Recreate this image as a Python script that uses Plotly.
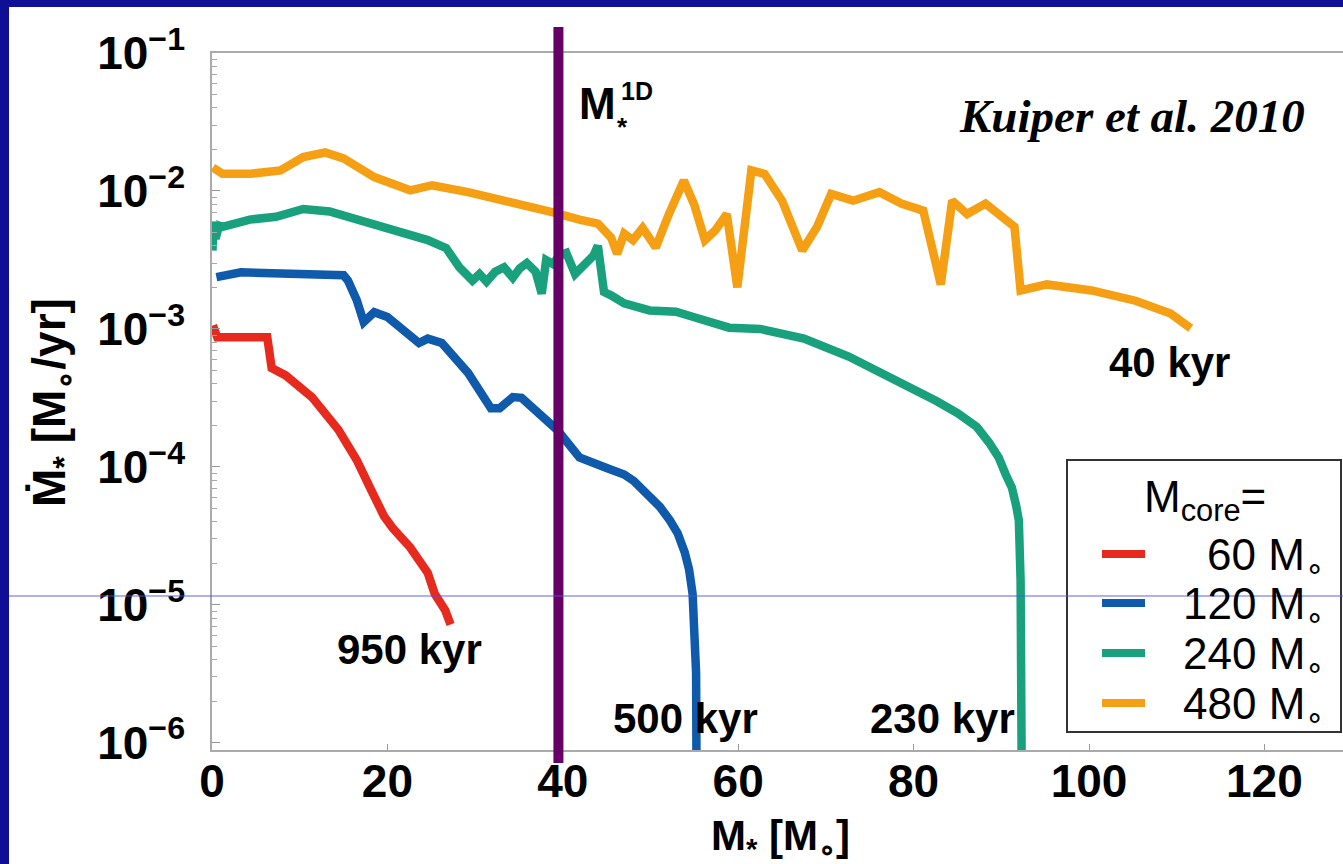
import numpy as np
import plotly.graph_objects as go

# ---------------- data ----------------
red_x = [0.1, 0.6, 6.3, 6.8, 8.4, 11.4, 14.4, 16.5, 18.0, 19.6, 20.6, 22.6, 24.6, 25.4, 26.6, 27.2]
red_y = [1.06e-3, 8.7e-4, 8.7e-4, 5.2e-4, 4.6e-4, 3.2e-4, 1.86e-4, 1.12e-4, 7.1e-5, 4.4e-5,
         3.6e-5, 2.6e-5, 1.7e-5, 1.2e-5, 9.1e-6, 7.2e-6]

blue_x = [0.5, 3.3, 15.0, 15.5, 16.5, 17.3, 18.5, 20.0, 23.6, 24.6, 26.2, 29.2, 31.8, 32.8, 34.3,
          35.3, 39.4, 41.9, 45.0, 47.0, 48.1, 49.5, 51.1, 52.2, 53.1, 53.9, 54.4, 54.8, 55.0,
          55.2, 55.3]
blue_y = [2.37e-3, 2.57e-3, 2.45e-3, 2.24e-3, 1.62e-3, 1.12e-3, 1.32e-3, 1.22e-3, 7.9e-4, 8.5e-4,
          7.9e-4, 4.8e-4, 2.66e-4, 2.66e-4, 3.2e-4, 3.16e-4, 1.84e-4, 1.17e-4, 9.8e-5, 8.8e-5,
          7.9e-5, 6.5e-5, 5.1e-5, 4.1e-5, 3.3e-5, 2.4e-5, 1.8e-5, 1.2e-5, 7e-6, 3.2e-6, 1e-7]

green_x = [0.05, 0.2, 0.4, 0.8, 1.2, 4.3, 7.3, 10.4, 13.4, 16.5, 20.6, 24.6, 26.7, 28.2, 29.7,
           30.5, 31.3, 32.3, 33.3, 34.3, 35.1, 35.9, 36.9, 37.6, 38.1, 38.9, 39.6, 40.4, 41.4,
           42.5, 43.5, 44.0, 44.7, 45.5, 47.0, 49.9, 52.9, 54.9, 58.95, 62.5, 67.5, 72.6, 77.6,
           82.6, 85.0, 87.2, 88.6, 89.7, 90.5, 91.2, 91.7, 92.0, 92.2, 92.3, 92.4]
green_y = [3.7e-3, 6.0e-3, 4.5e-3, 5.6e-3, 5.5e-3, 6.2e-3, 6.5e-3, 7.4e-3, 7.1e-3, 6.2e-3,
           5.2e-3, 4.4e-3, 3.85e-3, 2.8e-3, 2.24e-3, 2.5e-3, 2.2e-3, 2.6e-3, 2.8e-3, 2.35e-3,
           2.75e-3, 3.0e-3, 2.6e-3, 1.8e-3, 3.15e-3, 2.95e-3, 3.4e-3, 3.55e-3, 2.5e-3, 3.0e-3,
           3.4e-3, 4.0e-3, 1.85e-3, 1.75e-3, 1.53e-3, 1.36e-3, 1.33e-3, 1.22e-3, 1.02e-3,
           1.0e-3, 8.5e-4, 6.3e-4, 4.4e-4, 3.0e-4, 2.45e-4, 1.95e-4, 1.5e-4, 1.17e-4, 8.8e-5,
           7.1e-5, 5.2e-5, 4.1e-5, 1.5e-5, 5.0e-6, 1e-7]

orange_x = [0.1, 1.2, 4.3, 7.8, 10.4, 12.9, 15.0, 18.5, 22.6, 25.1, 29.2, 34.3, 38.9, 41.9, 44.0,
            45.5, 46.2, 47.0, 48.0, 49.1, 50.6, 52.1, 53.8, 55.0, 56.2, 57.4, 58.7, 59.9, 61.5,
            63.0, 65.0, 67.3, 69.0, 70.6, 73.1, 76.1, 78.6, 81.1, 83.1, 84.4, 86.1, 88.2, 90.2,
            91.5, 92.2, 95.2, 100.3, 105.3, 109.3, 111.6]
orange_y = [1.48e-2, 1.33e-2, 1.33e-2, 1.41e-2, 1.76e-2, 1.9e-2, 1.72e-2, 1.26e-2, 1.01e-2,
            1.10e-2, 9.8e-3, 8.3e-3, 7.0e-3, 6.2e-3, 5.8e-3, 4.6e-3, 3.5e-3, 4.9e-3, 4.4e-3,
            5.4e-3, 3.9e-3, 6.8e-3, 1.19e-2, 7.9e-3, 4.4e-3, 5.2e-3, 6.8e-3, 2.0e-3, 1.41e-2,
            1.33e-2, 8.5e-3, 3.7e-3, 5.5e-3, 9.5e-3, 8.5e-3, 9.8e-3, 8.1e-3, 7.2e-3, 2.1e-3,
            8.5e-3, 6.8e-3, 8.1e-3, 6.5e-3, 5.5e-3, 1.9e-3, 2.1e-3, 1.9e-3, 1.6e-3, 1.29e-3,
            1.01e-3]

series_names = ["60 M<sub>∘</sub>", "120 M<sub>∘</sub>", "240 M<sub>∘</sub>", "480 M<sub>∘</sub>"]
series_colors = ["#e62a1e", "#0f5aaa", "#19a07d", "#f5a014"]

end_labels = ["950 kyr", "500 kyr", "230 kyr", "40 kyr"]
end_label_x = [22.5, 54.0, 83.3, 109.2]
end_label_y = [4.7e-6, 1.5e-6, 1.5e-6, 5.74e-4]

m1d = 39.5

xtick_vals = [0, 20, 40, 60, 80, 100, 120]
ytick_vals = [1e-6, 1e-5, 1e-4, 1e-3, 1e-2, 1e-1]
ytick_text = ["10<sup>−6</sup>", "10<sup>−5</sup>", "10<sup>−4</sup>",
              "10<sup>−3</sup>", "10<sup>−2</sup>", "10<sup>−1</sup>"]

# ---------------- figure ----------------
W, H = 1343, 864
ML, MR, MT, MB = 212, 0, 53, 114
PW, PH = W - ML - MR, H - MT - MB


def px(xp):
    return (xp - ML) / PW


def py(yp):
    return (H - MB - yp) / PH


NAVY = "#0e0e96"
fig = go.Figure()

all_x = [red_x, blue_x, green_x, orange_x]
all_y = [red_y, blue_y, green_y, orange_y]
for xs, ys, name, col in zip(all_x, all_y, series_names, series_colors):
    fig.add_trace(go.Scatter(x=xs, y=ys, mode="lines", name=name,
                             line=dict(color=col, width=8.5), showlegend=False))

TICKFONT = dict(family="Liberation Sans, Arial, sans-serif", size=46, color="black", weight="bold")

minor_vals = [m * 10.0 ** e for e in range(-7, -1) for m in range(2, 10)]

fig.update_layout(
    width=W, height=H, autosize=False,
    margin=dict(l=ML, r=MR, t=MT, b=MB, pad=0),
    paper_bgcolor=NAVY, plot_bgcolor="white",
    xaxis=dict(range=[0, PW / 8.77], tickvals=xtick_vals, ticks="inside", ticklen=6,
               tickcolor="#999", showline=True, linecolor="#aaa", linewidth=1.5, mirror=True,
               showgrid=False, zeroline=False, tickfont=TICKFONT, ticklabelstandoff=-10),
    yaxis=dict(type="log", range=[-6.053, -1], tickvals=ytick_vals, ticktext=ytick_text,
               ticks="inside", ticklen=8, tickcolor="#999", showline=True, linecolor="#aaa",
               linewidth=1.5, mirror=False, showgrid=False, zeroline=False, tickfont=TICKFONT,
               ticklabelstandoff=16,
               minor=dict(tickvals=minor_vals, ticks="inside", ticklen=5, tickcolor="#aaa",
                          showgrid=False)),
)

shapes = []
# white slide area (navy frame at top and left)
shapes.append(dict(type="rect", xref="paper", yref="paper", x0=px(9), x1=px(W + 5),
                   y0=py(H + 5), y1=py(7), fillcolor="white", line=dict(width=0), layer="below"))
# M*^1D vertical line
shapes.append(dict(type="line", xref="x", yref="paper", x0=m1d, x1=m1d, y0=py(763), y1=py(27),
                   line=dict(color="#660066", width=10), layer="above"))
# legend box
shapes.append(dict(type="rect", xref="paper", yref="paper", x0=px(1067), x1=px(1341),
                   y0=py(732), y1=py(460), fillcolor="white", line=dict(color="#333", width=2),
                   layer="above"))
leg_y = [554, 603, 653, 703]
for col, ly in zip(series_colors, leg_y):
    shapes.append(dict(type="line", xref="paper", yref="paper", x0=px(1102), x1=px(1145),
                       y0=py(ly), y1=py(ly), line=dict(color=col, width=8), layer="above"))
# thin blue scan line
shapes.append(dict(type="line", xref="paper", yref="paper", x0=px(9), x1=px(W + 5),
                   y0=py(596), y1=py(596), line=dict(color="rgba(80,80,225,0.9)", width=1),
                   layer="above"))
fig.update_layout(shapes=shapes)

BOLD = dict(family="Liberation Sans, Arial, sans-serif", size=42, color="black", weight="bold")
ann = []
for t, xv, yv in zip(end_labels, end_label_x, end_label_y):
    ann.append(dict(text=t, x=xv, y=np.log10(yv), xref="x", yref="y", showarrow=False,
                    font=BOLD, xanchor="center", yanchor="middle"))
ann.append(dict(text="Kuiper et al. 2010", x=px(1132), y=py(116), xref="paper", yref="paper",
                showarrow=False, xanchor="center", yanchor="middle",
                font=dict(family="Liberation Serif, Times New Roman, serif", size=47,
                          color="black", weight="bold", style="italic")))
ann.append(dict(text="M", x=px(597), y=py(104), xref="paper", yref="paper", showarrow=False,
                xanchor="center", yanchor="middle",
                font=dict(family="Liberation Sans, Arial", size=44, color="black", weight="bold")))
ann.append(dict(text="1D", x=px(637), y=py(91), xref="paper", yref="paper", showarrow=False,
                xanchor="center", yanchor="middle",
                font=dict(family="Liberation Sans, Arial", size=25, color="black", weight="bold")))
ann.append(dict(text="*", x=px(622), y=py(127), xref="paper", yref="paper", showarrow=False,
                xanchor="center", yanchor="middle",
                font=dict(family="Liberation Sans, Arial", size=26, color="black", weight="bold")))
# axis titles
ann.append(dict(text="M<sub>*</sub> [M<sub>∘</sub>]", x=px(780), y=py(838), xref="paper",
                yref="paper", showarrow=False, xanchor="center", yanchor="middle",
                font=dict(family="Liberation Sans, Arial", size=42, color="black", weight="bold")))
ann.append(dict(text="Ṁ<sub>*</sub> [M<sub>∘</sub>/yr]", x=px(52), y=py(403), xref="paper",
                yref="paper", showarrow=False, xanchor="center", yanchor="middle",
                textangle=-90,
                font=dict(family="Liberation Sans, Arial", size=46, color="black", weight="bold")))
# legend texts
LEGF = dict(family="Liberation Sans, Arial", size=44, color="black")
ann.append(dict(text="M<sub>core</sub>=", x=px(1205), y=py(500), xref="paper", yref="paper",
                showarrow=False, xanchor="center", yanchor="middle", font=LEGF))
for name, ly in zip(series_names, leg_y):
    ann.append(dict(text=name, x=px(1326), y=py(ly + 4), xref="paper", yref="paper",
                    showarrow=False, xanchor="right", yanchor="middle", font=LEGF))
fig.update_layout(annotations=ann)

fig.write_html("out.html")
